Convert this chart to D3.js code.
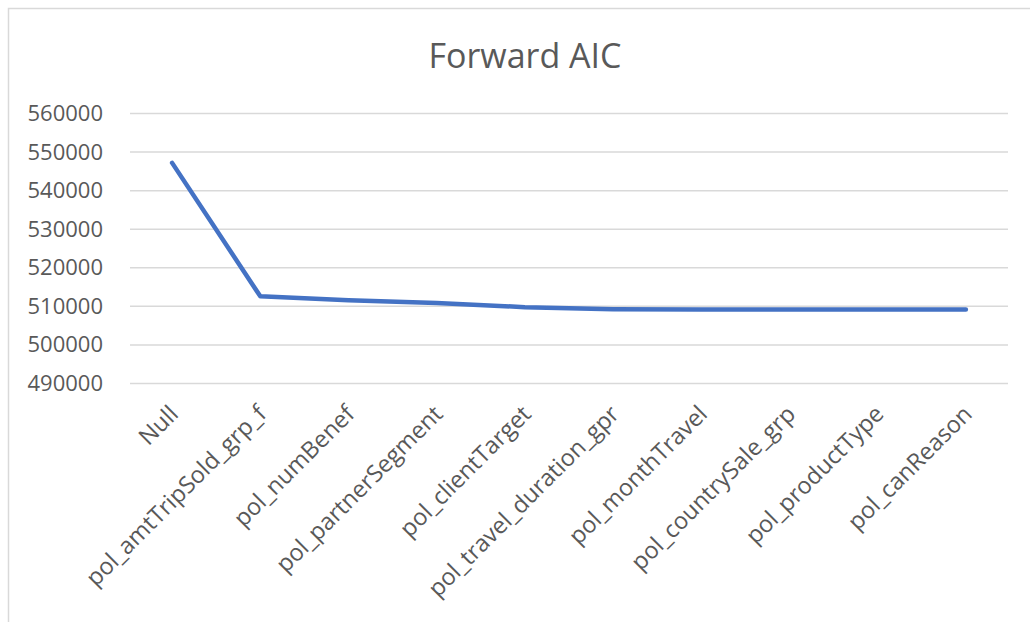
<!DOCTYPE html>
<html>
<head>
<meta charset="utf-8">
<script src="https://cdn.jsdelivr.net/npm/d3@7/dist/d3.min.js"></script>
<style>
  html, body { margin: 0; padding: 0; background: #ffffff; }
  svg { display: block; }
  text { font-family: "Open Sans", "Liberation Sans", sans-serif; fill: #595959; }
</style>
</head>
<body>
<svg id="chart" width="1030" height="622"></svg>
<script>
// Model steps of the forward selection and their AIC
const steps = [
  "Null",
  "pol_amtTripSold_grp_f",
  "pol_numBenef",
  "pol_partnerSegment",
  "pol_clientTarget",
  "pol_travel_duration_gpr",
  "pol_monthTravel",
  "pol_countrySale_grp",
  "pol_productType",
  "pol_canReason"
];
const aic = [547200, 512600, 511600, 510900, 509800, 509250, 509200, 509200, 509200, 509200];
const yTicks = [490000, 500000, 510000, 520000, 530000, 540000, 550000, 560000];
const titleText = "Forward AIC";

const svg = d3.select("#chart");

// chart frame
svg.append("rect")
  .attr("x", 8.5).attr("y", 8.5)
  .attr("width", 1040).attr("height", 640)
  .attr("fill", "#ffffff")
  .attr("stroke", "#d9d9d9")
  .attr("stroke-width", 1.5);

const plot = { left: 128, right: 1010, top: 113.5, bottom: 383.5 };

const x = d3.scalePoint()
  .domain(steps)
  .range([plot.left, plot.right])
  .padding(0.5);

const y = d3.scaleLinear()
  .domain([490000, 560000])
  .range([plot.bottom, plot.top]);

// horizontal gridlines
svg.append("g")
  .selectAll("line")
  .data(yTicks)
  .join("line")
  .attr("x1", plot.left + 2)
  .attr("x2", plot.right - 2)
  .attr("y1", d => y(d))
  .attr("y2", d => y(d))
  .attr("stroke", "#d9d9d9")
  .attr("stroke-width", 1.5);

// y axis labels
const yAxis = d3.axisLeft(y)
  .tickValues(yTicks)
  .tickFormat(d3.format("d"))
  .tickSize(0)
  .tickPadding(25);

const gy = svg.append("g")
  .attr("transform", `translate(${plot.left},0)`)
  .call(yAxis);
gy.select(".domain").remove();
gy.selectAll("text")
  .style("font-size", "22px")
  .attr("fill", "#595959");

// category labels, rotated
const xAxis = d3.axisBottom(x).tickSize(0).tickFormat(d => d);
const gx = svg.append("g")
  .attr("transform", `translate(0,${plot.bottom})`)
  .call(xAxis);
gx.select(".domain").remove();
gx.selectAll("text")
  .style("font-size", "23.5px")
  .attr("fill", "#595959")
  .attr("text-anchor", "end")
  .attr("y", 0)
  .attr("dy", 0)
  .attr("transform", "translate(7,32) rotate(-45)");

// AIC line
const line = d3.line()
  .x((d, i) => x(steps[i]))
  .y(d => y(d));

svg.append("path")
  .datum(aic)
  .attr("d", line)
  .attr("fill", "none")
  .attr("stroke", "#4472c4")
  .attr("stroke-width", 4.5)
  .attr("stroke-linejoin", "round")
  .attr("stroke-linecap", "round");

// title
svg.append("text")
  .attr("x", 525)
  .attr("y", 68)
  .attr("text-anchor", "middle")
  .style("font-size", "34px")
  .text(titleText);
</script>
</body>
</html>
